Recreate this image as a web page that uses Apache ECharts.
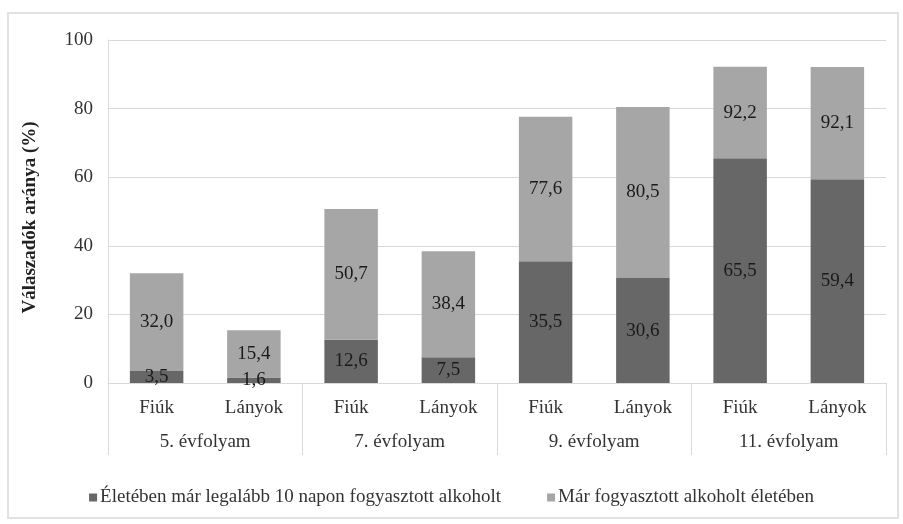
<!DOCTYPE html>
<html><head><meta charset="utf-8">
<script src="https://cdn.jsdelivr.net/npm/echarts@6/dist/echarts.min.js"></script>
<style>html,body{margin:0;padding:0;background:#fff}#c{width:903px;height:524px}</style>
</head><body><div id="c"></div>
<script>
const genders = ['Fiúk','Lányok','Fiúk','Lányok','Fiúk','Lányok','Fiúk','Lányok'];
const grades = ['5. évfolyam','7. évfolyam','9. évfolyam','11. évfolyam'];
const seriesNames = ['Életében már legalább 10 napon fogyasztott alkoholt','Már fogyasztott alkoholt életében'];
const atLeast10 = [3.5, 1.6, 12.6, 7.5, 35.5, 30.6, 65.5, 59.4];
const everDrank = [32.0, 15.4, 50.7, 38.4, 77.6, 80.5, 92.2, 92.1];
const yTicks = [0, 20, 40, 60, 80, 100];

const FONT = 'Liberation Serif';
const FS = 19;
const fmt = v => v.toFixed(1).replace('.', ',');
// visible upper segment of the light bar (it is drawn behind the dark one)
const upperSeg = everDrank.map((t, i) => ({ value: t - atLeast10[i], total: t }));

const chart = echarts.init(document.getElementById('c'));
chart.setOption({
  animation: false,
  textStyle: { fontFamily: FONT },
  graphic: [{ type: 'rect', shape: { x: 8, y: 13, width: 890, height: 505 },
    style: { fill: 'none', stroke: '#e2e2e2', lineWidth: 2 }, silent: true }],
  grid: { left: 108, right: 17, top: 40, bottom: 141 },
  legend: {
    bottom: 12, left: 'center', itemWidth: 8, itemHeight: 8, itemGap: 46,
    icon: 'rect',
    textStyle: { fontFamily: FONT, fontSize: FS, color: '#333', padding: [0, 0, 0, -2] },
    data: seriesNames
  },
  xAxis: [{
    type: 'category', data: genders, position: 'bottom',
    axisLine: { show: true, lineStyle: { color: '#d9d9d9' } },
    axisTick: { show: false },
    axisLabel: { fontFamily: FONT, fontSize: FS, color: '#333', margin: 16 }
  }, {
    type: 'category', data: grades, position: 'bottom',
    axisLine: { show: false },
    axisTick: { show: true, length: 72, lineStyle: { color: '#d9d9d9' } },
    axisLabel: { fontFamily: FONT, fontSize: FS, color: '#333', margin: 50 }
  }],
  yAxis: {
    type: 'value', min: yTicks[0], max: yTicks[yTicks.length - 1], interval: 20,
    name: 'Válaszadók aránya (%)', nameLocation: 'middle', nameGap: 68,
    nameTextStyle: { fontFamily: FONT, fontSize: FS, fontWeight: 'bold', color: '#222', padding: [0, 12, 0, 0] },
    axisLine: { show: true, lineStyle: { color: '#d9d9d9' } },
    axisTick: { show: false },
    axisLabel: { fontFamily: FONT, fontSize: FS, color: '#333', margin: 15 },
    splitLine: { lineStyle: { color: '#d9d9d9' } }
  },
  series: [{
    name: seriesNames[0], type: 'bar', stack: 's', xAxisIndex: 0,
    data: atLeast10, barWidth: '55%',
    itemStyle: { color: '#676767' },
    label: { show: true, position: 'inside', fontFamily: FONT, fontSize: FS, color: '#1a1a1a',
      formatter: p => fmt(p.value) }
  }, {
    name: seriesNames[1], type: 'bar', stack: 's', xAxisIndex: 0,
    data: upperSeg, barWidth: '55%',
    itemStyle: { color: '#a6a6a6' },
    label: { show: true, position: 'inside', fontFamily: FONT, fontSize: FS, color: '#1a1a1a',
      formatter: p => fmt(p.data.total) }
  }]
});
</script></body></html>
